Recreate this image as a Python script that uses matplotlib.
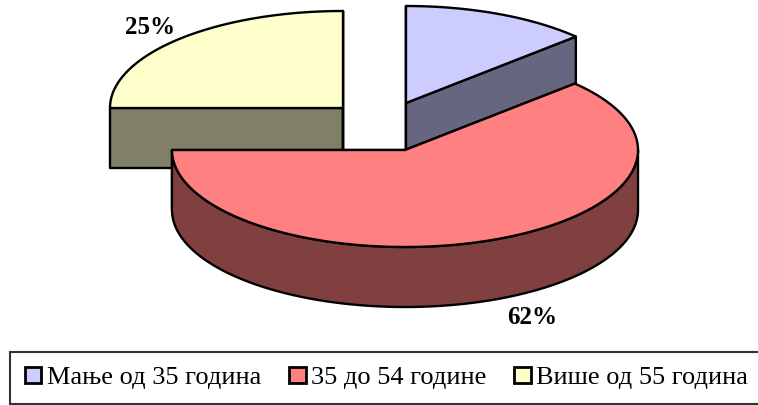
import numpy as np
import matplotlib.pyplot as plt
from matplotlib.patches import Polygon, Patch

# data
categories = ['Мање од 35 година', '35 до 54 године', 'Више од 55 година']
shares = [13, 62, 25]
value_labels = ['13%', '62%', '25%']

# style
top_colors = ['#CCCCFF', '#FF8080', '#FFFFCC']
side_colors = ['#666680', '#804040', '#808066']
RX, RY, DEPTH = 233, 97, 60
BASE = (405, 150)
offsets = [(1, -47), (0, 0), (-62, -42)]       # exploded slices
label_pos = [None, (532, 318), (150, 28)]       # 13% label falls outside the picture
draw_order = [2, 0, 1]

fig = plt.figure(figsize=(7.58, 4.05), dpi=100)
ax = fig.add_axes([0, 0, 1, 1])
ax.set_xlim(0, 758)
ax.set_ylim(405, 0)
ax.axis('off')

total = sum(shares)
cum = np.concatenate([[0], np.cumsum(shares)])
starts = 90 - 360 * cum[:-1] / total
ends = 90 - 360 * cum[1:] / total


def ell(c, a, dz=0):
    a = np.radians(a)
    return np.column_stack([c[0] + RX * np.cos(a), c[1] - RY * np.sin(a) + dz])


def face(pts, fc, z):
    ax.add_patch(Polygon(pts, closed=True, facecolor=fc, edgecolor='black',
                         lw=1.7, joinstyle='round', zorder=z))


z = 1
for i in draw_order:
    c = (BASE[0] + offsets[i][0], BASE[1] + offsets[i][1])
    a0, a1 = starts[i], ends[i]
    ctr = np.array([c])
    # radial faces
    for a in (a0, a1):
        p = ell(c, [a])
        face(np.vstack([ctr, p, p + [0, DEPTH], ctr + [0, DEPTH]]), side_colors[i], z)
        z += 1
    # outer side, front half only
    lo, hi = max(min(a0, a1), -180), min(max(a0, a1), 0)
    if lo < hi:
        arc = np.linspace(lo, hi, 120)
        face(np.vstack([ell(c, arc), ell(c, arc[::-1], DEPTH)]), side_colors[i], z)
        z += 1
    # top
    arc = np.linspace(a0, a1, 200)
    face(np.vstack([ctr, ell(c, arc)]), top_colors[i], z)
    z += 1

for i, pos in enumerate(label_pos):
    if pos is None:
        continue
    ax.text(pos[0], pos[1], value_labels[i], ha='center', va='center',
            fontsize=18, fontweight='bold', family='Liberation Serif', zorder=50)

handles = [Patch(facecolor=top_colors[i], edgecolor='black', lw=2) for i in range(3)]
leg = fig.legend(handles, categories, loc='upper left', ncol=3,
                 bbox_to_anchor=(10 / 758, 1 - 352 / 405), bbox_transform=fig.transFigure,
                 frameon=True, fancybox=False, edgecolor='black', borderaxespad=0,
                 borderpad=0.55, handlelength=0.64, handleheight=0.6, handletextpad=0.2,
                 columnspacing=1.05, prop={'family': 'Liberation Serif', 'size': 19})
leg.get_frame().set_linewidth(1.5)

fig.savefig('out.png', dpi=100)
